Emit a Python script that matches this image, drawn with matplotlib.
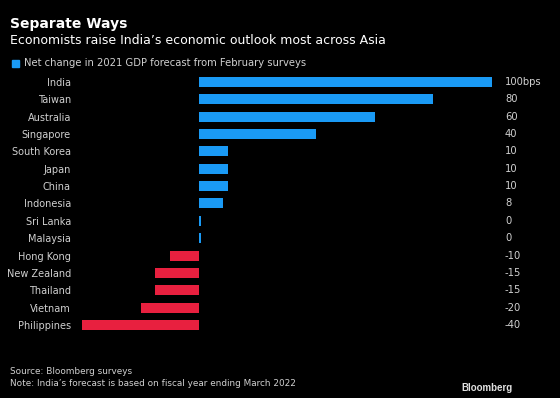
#!/usr/bin/env python3
"""Separate Ways - net change in 2021 GDP forecasts across Asia."""
import matplotlib.pyplot as plt

countries = ['India', 'Taiwan', 'Australia', 'Singapore', 'South Korea', 'Japan',
             'China', 'Indonesia', 'Sri Lanka', 'Malaysia', 'Hong Kong',
             'New Zealand', 'Thailand', 'Vietnam', 'Philippines']
changes = [100, 80, 60, 40, 10, 10, 10, 8, 0, 0, -10, -15, -15, -20, -40]
value_labels = ['100bps', '80', '60', '40', '10', '10', '10', '8', '0', '0',
                '-10', '-15', '-15', '-20', '-40']

BLUE = '#1a9af5'
RED = '#e8203f'
TEXT = '#d0d0d0'


def main():
    plt.rcParams['font.family'] = ['DejaVu Sans']
    fig = plt.figure(figsize=(5.6, 3.98), dpi=100, facecolor='black')
    ax = fig.add_axes([82 / 560, 0.1616, (492 - 82) / 560, 0.816 - 0.1616])
    ax.set_facecolor('black')

    ypos = list(range(len(countries)))
    # zero values get a hairline so the row is still visible
    widths = [v if v != 0 else 0.5 for v in changes]
    colors = [BLUE if v >= 0 else RED for v in changes]
    ax.barh(ypos, widths, height=0.58, color=colors)

    ax.set_xlim(-40, 100)
    ax.set_ylim(len(countries) - 0.5, -0.5)
    ax.set_yticks(ypos)
    ax.set_yticklabels(countries, color=TEXT, fontsize=7)
    ax.tick_params(axis='y', length=0, pad=8)
    ax.set_xticks([])
    for s in ax.spines.values():
        s.set_visible(False)

    for y, lab in zip(ypos, value_labels):
        ax.annotate(lab, xy=(1, y), xycoords=('axes fraction', 'data'),
                    xytext=(13, 0), textcoords='offset pixels',
                    va='center', ha='left', color=TEXT, fontsize=7.2)

    fig.text(10 / 560, 1 - 24 / 398, 'Separate Ways', color='white',
             fontsize=10, fontweight='bold', va='center', ha='left')
    fig.text(10 / 560, 1 - 41 / 398,
             'Economists raise India\u2019s economic outlook most across Asia',
             color='white', fontsize=9, va='center', ha='left')
    fig.patches.append(plt.Rectangle((12 / 560, 1 - 67 / 398), 7 / 560, 7 / 398,
                                     transform=fig.transFigure, color=BLUE))
    fig.text(24 / 560, 1 - 63 / 398,
             'Net change in 2021 GDP forecast from February surveys',
             color=TEXT, fontsize=7.2, va='center', ha='left')

    fig.text(10 / 560, 1 - 372 / 398, 'Source: Bloomberg surveys',
             color=TEXT, fontsize=6.4, va='center', ha='left')
    fig.text(10 / 560, 1 - 384 / 398,
             'Note: India\u2019s forecast is based on fiscal year ending March 2022',
             color=TEXT, fontsize=6.4, va='center', ha='left')
    fig.text(513 / 560, 1 - 388 / 398, 'Bloomberg', color='#e0e0e0',
             fontsize=7, fontweight='bold', va='center', ha='right',
             family=['Liberation Sans', 'DejaVu Sans'])

    fig.savefig('out.png', dpi=100, facecolor='black')


if __name__ == '__main__':
    main()
